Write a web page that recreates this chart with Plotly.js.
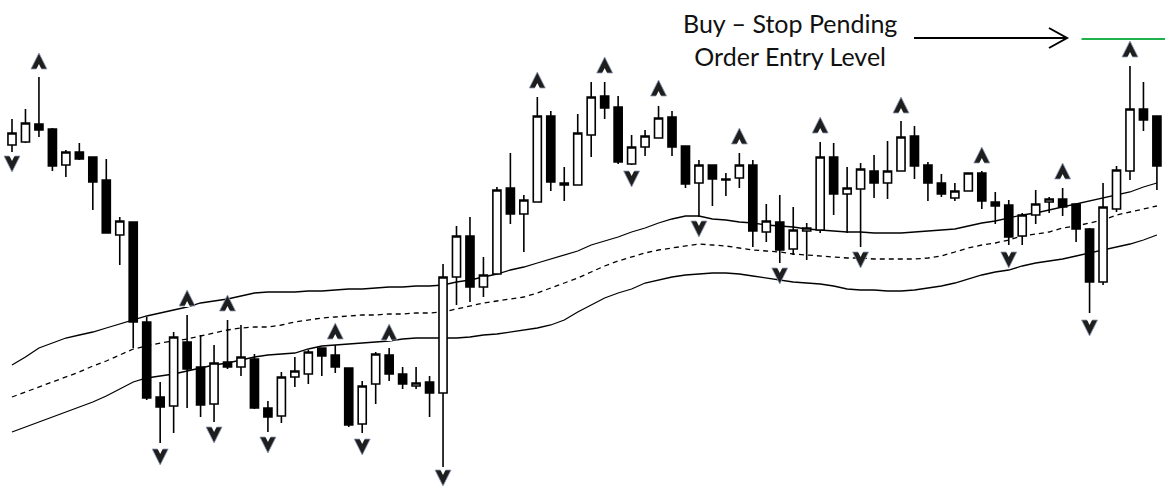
<!DOCTYPE html>
<html>
<head>
<meta charset="utf-8">
<script src="https://cdn.plot.ly/plotly-3.0.1.min.js"></script>
<style>
html,body{margin:0;padding:0;background:#ffffff;}
#chart{width:1165px;height:487px;}
</style>
</head>
<body>
<div id="chart"></div>
<script>
// bar positions (bar number)
const bars = [0,1,2,3,4,5,6,7,8,9,10,11,12,13,14,15,16,17,18,19,20,21,22,23,24,25,26,27,28,29,
  30,31,32,33,34,35,36,37,38,39,40,41,42,43,44,45,46,47,48,49,50,51,52,53,54,55,56,57,58,59,
  60,61,62,63,64,65,66,67,68,69,70,71,72,73,74,75,76,77,78,79,80,81,82,83,84,85];

// OHLC (price units)
const open = [342,345,363,358,322,335,330,307,252,265,
  165,90,81,145,120,83,125,120,128,79,
  71,110,113,139,132,119,63,103,132,113,
  101,105,94,210,251,200,213,299,273,285,
  371,304,302,352,391,380,323,340,349,370,
  341,304,322,308,309,322,255,265,238,256,
  257,330,293,298,316,304,316,351,322,304,
  289,296,314,285,282,251,272,285,288,283,
  258,205,278,316,378,371];
const high = [368,378,410,359,337,344,330,328,270,265,
  170,105,155,172,152,142,167,162,133,86,
  115,130,137,139,142,119,106,135,139,120,
  120,111,223,261,270,230,300,334,292,390,
  376,320,373,405,405,391,352,357,381,376,
  341,327,322,314,334,327,283,292,280,264,
  345,344,320,324,332,346,366,361,325,313,
  304,314,316,295,287,274,297,290,299,283,
  259,304,321,421,405,371];
const low = [335,344,350,316,310,327,277,254,222,139,
  87,44,54,79,70,65,118,111,78,55,
  64,100,103,111,114,60,54,83,106,98,
  98,70,20,182,185,190,213,263,235,285,
  296,286,302,330,368,323,322,331,349,331,
  299,270,281,291,299,240,245,224,232,227,
  254,272,254,240,289,288,316,308,286,290,
  286,296,278,263,242,242,263,274,271,245,
  174,202,275,307,356,297];
const close = [354,364,357,321,335,328,305,254,266,165,
  89,80,150,118,82,124,120,130,79,70,
  110,116,135,131,120,62,101,133,113,103,
  104,94,210,251,200,212,297,273,287,371,
  305,302,354,390,379,325,340,351,369,340,
  303,322,308,307,322,256,266,237,257,259,
  330,293,299,318,304,316,350,321,304,293,
  296,314,286,281,250,272,283,288,280,258,
  205,280,317,378,367,321];

// envelope bands
const upperBand = [122,130,139,144,149,152,155,159,163,167,
  171,174,177,180,184,186,188,191,194,195,
  195,195,196,196,197,198,198,199,200,200,
  201,201,202,205,207,210,213,217,220,224,
  228,232,236,242,246,250,255,259,264,268,
  271,271,268,267,265,264,262,261,260,258,
  257,256,255,255,254,254,254,255,256,257,
  258,261,264,266,269,272,274,277,280,283,
  286,289,292,295,300,304];
const middleBand = [90,95,100,105,110,115,121,126,132,138,
  141,144,146,148,151,154,157,159,160,160,
  162,165,167,169,170,171,172,172,173,173,
  174,174,175,178,181,184,186,188,190,194,
  199,204,209,215,221,226,230,234,237,239,
  241,243,242,241,239,237,236,235,233,232,
  231,230,229,229,228,228,228,228,229,231,
  235,239,242,244,247,251,253,255,259,261,
  264,267,272,275,278,281];
const lowerBand = [55,60,65,70,75,80,85,91,98,105,
  109,111,113,116,119,122,124,127,130,132,
  133,134,138,141,142,143,144,145,146,148,
  149,149,149,149,150,152,153,155,157,159,
  162,167,175,182,189,194,198,204,207,210,
  212,213,214,214,213,211,209,207,205,204,
  203,201,198,197,197,196,196,197,199,201,
  204,208,212,215,217,221,224,226,228,231,
  234,237,240,243,247,252];

// fractal arrows (arrow tip level)
const upFractalBars = [2,13,16,24,28,39,44,48,54,60,66,72,78,83];
const upFractalLevel = [434,197,192,164,163,415,430,407,359,370,390,340,324,446];
const downFractalBars = [0,11,15,19,26,32,46,51,57,63,74,80];
const downFractalLevel = [315,22,44,34,32,1,300,250,203,219,219,151];

// buy-stop pending order entry level
const buyStopLevel = 448;
const buyStopFromBar = 79.4;

const xRange = [-0.891, 85.6];
const yRange = [0, 487];
const notchShift = 11; // px: notch of the arrow glyph sits at its base

const W = 1165, H = 487;
const px = v => v / W;
const py = v => 1 - v / H;

const bandLine = {color:'#000000', width:1.3};
const arrowMarker = sym => ({symbol:sym, size:16, color:'#1e1e1e', line:{color:'#8f9cb8', width:0.8}});
const notchMarker = sym => ({symbol:sym, size:6, color:'#ffffff', line:{width:0}});

const traces = [
  {type:'scatter', mode:'lines', x:bars, y:upperBand, line:bandLine, xaxis:'x', yaxis:'y', hoverinfo:'skip'},
  {type:'scatter', mode:'lines', x:bars, y:middleBand, line:{color:'#000000', width:1.3, dash:'5px,4px'}, xaxis:'x', yaxis:'y', hoverinfo:'skip'},
  {type:'scatter', mode:'lines', x:bars, y:lowerBand, line:bandLine, xaxis:'x', yaxis:'y', hoverinfo:'skip'},
  {type:'candlestick', x:bars, open:open, high:high, low:low, close:close,
   xaxis:'x2', yaxis:'y2', whiskerwidth:0,
   increasing:{line:{color:'#000000', width:1.6}, fillcolor:'#ffffff'},
   decreasing:{line:{color:'#000000', width:1.6}, fillcolor:'#000000'},
   hoverinfo:'skip'},
  {type:'scatter', mode:'markers', x:upFractalBars, y:upFractalLevel, xaxis:'x2', yaxis:'y2',
   marker:arrowMarker('arrow-up'), hoverinfo:'skip'},
  {type:'scatter', mode:'markers', x:downFractalBars, y:downFractalLevel, xaxis:'x2', yaxis:'y2',
   marker:arrowMarker('arrow-down'), hoverinfo:'skip'},
  // notches cut into the arrow bases
  {type:'scatter', mode:'markers', x:upFractalBars, y:upFractalLevel, xaxis:'x3', yaxis:'y3',
   marker:notchMarker('arrow-up'), hoverinfo:'skip'},
  {type:'scatter', mode:'markers', x:downFractalBars, y:downFractalLevel, xaxis:'x3', yaxis:'y4',
   marker:notchMarker('arrow-down'), hoverinfo:'skip'}
];

const hiddenAxis = {visible:false, showgrid:false, zeroline:false, fixedrange:true};

const layout = {
  width:W, height:H,
  margin:{l:0, r:0, t:0, b:0},
  paper_bgcolor:'#ffffff', plot_bgcolor:'#ffffff',
  showlegend:false,
  boxgap:0.4, boxgroupgap:0,
  xaxis:Object.assign({range:xRange, rangeslider:{visible:false}}, hiddenAxis),
  yaxis:Object.assign({range:yRange}, hiddenAxis),
  xaxis2:Object.assign({range:xRange, overlaying:'x', anchor:'y2', rangeslider:{visible:false}}, hiddenAxis),
  yaxis2:Object.assign({range:yRange, overlaying:'y', anchor:'x2'}, hiddenAxis),
  xaxis3:Object.assign({range:xRange, overlaying:'x', anchor:'y3'}, hiddenAxis),
  yaxis3:Object.assign({range:[yRange[0]+notchShift, yRange[1]+notchShift], overlaying:'y', anchor:'x3'}, hiddenAxis),
  yaxis4:Object.assign({range:[yRange[0]-notchShift, yRange[1]-notchShift], overlaying:'y', anchor:'x3'}, hiddenAxis),
  shapes:[
    {type:'line', xref:'x', yref:'y', x0:buyStopFromBar, x1:xRange[1], y0:buyStopLevel, y1:buyStopLevel,
     line:{color:'#1fb14a', width:2.2}},
    {type:'line', xref:'paper', yref:'paper', x0:px(914), x1:px(1066), y0:py(38), y1:py(38),
     line:{color:'#000000', width:2}},
    {type:'path', xref:'paper', yref:'paper',
     path:'M'+px(1049)+','+py(28)+' L'+px(1067)+','+py(38)+' L'+px(1049)+','+py(48),
     line:{color:'#000000', width:2}}
  ],
  annotations:[
    {xref:'paper', yref:'paper', x:px(790), y:py(6), xanchor:'center', yanchor:'top',
     text:'Buy – Stop Pending<br>Order Entry Level', showarrow:false, align:'center',
     font:{family:'Lato, "Open Sans", sans-serif', size:25, color:'#111111'}}
  ]
};

Plotly.newPlot('chart', traces, layout, {displayModeBar:false, staticPlot:true});
</script>
</body>
</html>
